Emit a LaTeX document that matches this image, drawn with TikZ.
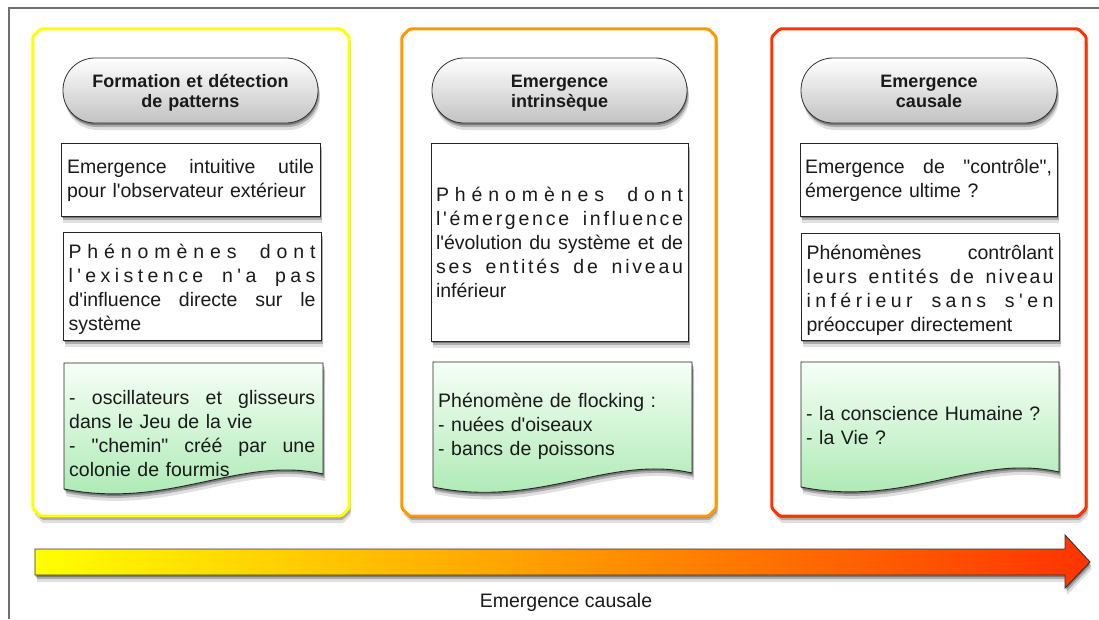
\documentclass[tikz,border=0pt]{standalone}
\usepackage{fontspec}
\setmainfont{Liberation Sans}[Ligatures=TeXOff]
\usetikzlibrary{shadows}
\definecolor{cyel}{HTML}{FFFF00}
\definecolor{corg}{HTML}{FF9900}
\definecolor{cred}{HTML}{FF3300}
\definecolor{docg}{HTML}{A6E8AE}
\definecolor{doctop}{HTML}{F6FFF6}
\definecolor{pillg}{HTML}{C2C2C2}
\definecolor{framegray}{HTML}{707070}
\definecolor{ink}{HTML}{1A1A1A}
\pgfdeclarehorizontalshading{arrowshade}{100bp}{color(0bp)=(cyel); color(25bp)=(cyel); color(50bp)=(corg); color(75bp)=(cred); color(100bp)=(cred)}
\newcommand\bodyfont{\fontsize{19.5pt}{24pt}\selectfont}
\newcommand\headfont{\fontsize{18pt}{20.5pt}\selectfont\bfseries}
% stack of lines
\newcommand\lines[1]{\vbox{#1}}
% centred line
\newcommand\cl[1]{\hbox to\hsize{\hfil#1\hfil}}
% justified line (word spaces stretch)
\newcommand\jl[1]{\hbox to\hsize{\spaceskip=0.28em plus 1fil\relax #1}}
% last (natural) line
\newcommand\lastl[1]{\hbox to\hsize{#1\hfil}}
% letter-spaced justified line
\def\lsw#1{\lswA#1\lswEnd}
\def\lswA#1#2\lswEnd{#1\ifx\relax#2\relax\else\hskip 0pt plus 1fil\relax\lswA#2\lswEnd\fi}
\def\splA#1 #2\splEnd{\lsw{#1}\ifx\relax#2\relax\else\hskip 0.28em plus 3fil\relax\splA#2\splEnd\fi}
\def\spl#1{\hbox to\hsize{\splA#1 \splEnd}}
% chamfered outline around a named node
\newcommand\chamfbox[2]{%
  \path[draw=#2, containerline]
    ([xshift=8pt]#1.north west) -- ([xshift=-8pt]#1.north east) -- ([yshift=-8pt]#1.north east)
    -- ([yshift=8pt]#1.south east) -- ([xshift=-8pt]#1.south east) -- ([xshift=8pt]#1.south west)
    -- ([yshift=8pt]#1.south west) -- ([yshift=-8pt]#1.north west) -- cycle;}
\tikzset{
  softshadow/.style={drop shadow={shadow xshift=0.5pt,shadow yshift=-2pt,opacity=0.3,fill=black},
                     drop shadow={shadow xshift=1.5pt,shadow yshift=-4pt,opacity=0.22,fill=black},
                     drop shadow={shadow xshift=2pt,shadow yshift=-7pt,opacity=0.12,fill=black}},
  container/.style={rectangle, inner sep=0pt},
  containerline/.style={line width=3pt, fill=white, rounded corners=1.5pt, line join=round, softshadow},
  pill/.style={rectangle, rounded corners=32pt, draw=black!80, line width=0.8pt,
               top color=white, bottom color=pillg, minimum height=65pt, text width=250pt,
               font=\headfont, text=ink, softshadow, inner sep=0pt},
  tbox/.style={rectangle, draw=black!85, line width=0.9pt, fill=white, softshadow,
               inner sep=0pt, text width=247pt, font=\bodyfont, text=ink},
  docshape/.style={draw=black!85, line width=0.9pt, top color=doctop, bottom color=docg, softshadow},
  doctext/.style={anchor=west, inner sep=0pt, text width=247pt, font=\bodyfont, text=ink}
}
\begin{document}
\begin{tikzpicture}[x=1pt,y=-1pt]
\useasboundingbox (0,0) rectangle (1099,619);
% frame
\draw[framegray, line width=1.3pt] (9,619) -- (9,8) -- (1099,8);
% containers
\node[container, minimum width=316pt, minimum height=487pt] (col1) at (191,272.5) {};
\node[container, minimum width=314pt, minimum height=487pt] (col2) at (559,272.5) {};
\node[container, minimum width=314pt, minimum height=487pt] (col3) at (929,272.5) {};
\chamfbox{col1}{cyel}
\chamfbox{col2}{corg}
\chamfbox{col3}{cred}
% headers
\node[pill, minimum width=255pt] (h1) at (190.5,90.5) {\lines{\vskip 5pt\cl{Formation et détection}\cl{de patterns}}};
\node[pill, minimum width=255pt] (h2) at (559.5,90.5) {\lines{\vskip 5pt\cl{Emergence}\cl{intrinsèque}}};
\node[pill, minimum width=256pt] (h3) at (929,90.5) {\lines{\vskip 5pt\cl{Emergence}\cl{causale\vphantom{q}}}};
% column 1 boxes
\node[tbox, minimum width=259pt, minimum height=73pt] (b11) at (190.5,179.5)
  {\lines{\vskip 2pt\jl{Emergence intuitive utile}\lastl{pour l'observateur extérieur}}};
\node[tbox, minimum width=258pt, minimum height=108pt] (b12) at (192,286)
  {\lines{\vskip 7pt\spl{Phénomènes dont}\spl{l'existence n'a pas}\jl{d'influence directe sur le}\lastl{système}}};
% column 2 box
\node[tbox, minimum width=257pt, minimum height=198pt] (b21) at (559.5,242)
  {\lines{\spl{Phénomènes dont}\spl{l'émergence influence}\jl{l'évolution du système et de}\spl{ses entités de niveau}\lastl{inférieur}}};
% column 3 boxes
\node[tbox, minimum width=257pt, minimum height=73pt] (b31) at (928.5,179.5)
  {\lines{\vskip 2pt\jl{Emergence de "contrôle",}\lastl{émergence ultime ?}}};
\node[tbox, minimum width=258pt, minimum height=107pt] (b32) at (930,286.5)
  {\lines{\vskip 7pt\jl{Phénomènes contrôlant}\spl{leurs entités de niveau}\spl{inférieur sans s'en}\lastl{préoccuper directement}}};
% document shapes
\path[docshape] (64,363) -- (323,363) -- (323,474) .. controls (240,455) and (170,510) .. (64,489) -- cycle;
\path[docshape] (433,362) -- (692,362) -- (692,473) .. controls (609,454) and (539,509) .. (433,487) -- cycle;
\path[docshape] (801,362) -- (1059,362) -- (1059,472) .. controls (976,453) and (906,508) .. (801,487) -- cycle;
\node[doctext, text width=246pt] (d1) at (69,434)
  {\lines{\jl{- oscillateurs et glisseurs}\lastl{dans le Jeu de la vie}\jl{- "chemin" créé par une}\lastl{colonie de fourmis}}};
\node[doctext] (d2) at (438,426)
  {\lines{\lastl{Phénomène de flocking :}\lastl{- nuées d'oiseaux}\lastl{- bancs de poissons}}};
\node[doctext] (d3) at (806,426)
  {\lines{\lastl{- la conscience Humaine ?}\lastl{- la Vie ?}}};
% gradient arrow
\path[draw=black!80, line width=0.9pt, shading=arrowshade, softshadow]
  (35,549) -- (1065,549) -- (1065,535) -- (1090,562) -- (1065,588) -- (1065,575) -- (35,575) -- cycle;
\node[font=\bodyfont, text=ink, inner sep=0pt] (lbl) at (566,602) {Emergence causale};
\end{tikzpicture}
\end{document}
